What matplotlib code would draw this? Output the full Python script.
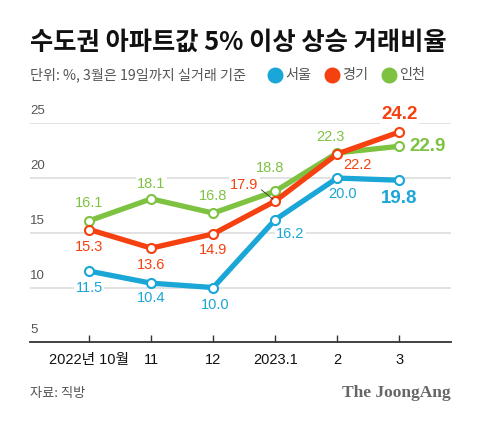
import matplotlib
matplotlib.use("Agg")
import matplotlib.pyplot as plt
from matplotlib.lines import Line2D

plt.rcParams["font.family"] = ["Liberation Sans", "Noto Sans CJK KR", "DejaVu Sans"]

months = ["2022년 10월", "11", "12", "2023.1", "2", "3"]
seoul = [11.5, 10.4, 10.0, 16.2, 20.0, 19.8]
gyeonggi = [15.3, 13.6, 14.9, 17.9, 22.2, 24.2]
incheon = [16.1, 18.1, 16.8, 18.8, 22.3, 22.9]
yticks = [5, 10, 15, 20, 25]

blue = "#1aa6d6"
red = "#f5400f"
green = "#7ec242"

W, H = 480, 422
fig = plt.figure(figsize=(4.8, 4.22), dpi=100)
ax = fig.add_axes([30 / W, 1 - 342.3 / H, (450.7 - 30) / W, (342.3 - 123.3) / H])
ax.set_xlim(-0.955, 5.83)
ax.set_ylim(5, 25)

for v in yticks[1:]:
    ax.axhline(v, color="#dadada", lw=1.1, zorder=0)
for s in ["top", "right", "left"]:
    ax.spines[s].set_visible(False)
ax.spines["bottom"].set_color("#333333")
ax.spines["bottom"].set_linewidth(1.3)
ax.set_yticks([])
ax.set_xticks(range(len(months)))
ax.set_xticklabels(months, fontsize=10.5, color="#111111")
ax.tick_params(axis="x", direction="in", length=5, width=1, color="#333333", pad=8)

for v in yticks:
    ax.text(-0.955, v + 0.55, str(v), fontsize=9.5, color="#555555", ha="left", va="bottom")

x = list(range(len(months)))
for series, col in [(incheon, green), (seoul, blue), (gyeonggi, red)]:
    ax.plot(x, series, color=col, lw=3.8, zorder=3, solid_capstyle="round",
            marker="o", markersize=6.5, markerfacecolor="white",
            markeredgecolor=col, markeredgewidth=1.5, clip_on=False)

bb = dict(facecolor="white", edgecolor="none", pad=1.0)


def lab(i, vals, dx, dy, col, bold=False, ha="center"):
    ax.annotate(f"{vals[i]:.1f}", (i, vals[i]), xytext=(dx, dy), textcoords="offset pixels",
                ha=ha, va="center", color=col, fontsize=13.5 if bold else 10.5,
                fontweight="bold" if bold else "normal", bbox=bb, zorder=1.5)


# 인천
lab(0, incheon, 0, 18, green)
lab(1, incheon, 0, 15, green)
lab(2, incheon, 0, 17, green)
lab(3, incheon, -5, 23, green)
lab(4, incheon, -7, 16, green)
lab(5, incheon, 10, 0, green, bold=True, ha="left")
# 경기
lab(0, gyeonggi, 0, -17, red)
lab(1, gyeonggi, 0, -17, red)
lab(2, gyeonggi, 0, -16, red)
lab(3, gyeonggi, -31, 16, red)
lab(4, gyeonggi, 20, -11, red)
lab(5, gyeonggi, 0, 18, red, bold=True)
# 서울
lab(0, seoul, 0, -17, blue)
lab(1, seoul, 0, -15, blue)
lab(2, seoul, 2, -17, blue)
lab(3, seoul, 15, -14, blue)
lab(4, seoul, 5, -16, blue)
lab(5, seoul, 0, -18, blue, bold=True)

# leader line for 17.9
ax.annotate("", (3, gyeonggi[3]), xytext=(-16, 13), textcoords="offset pixels",
            arrowprops=dict(arrowstyle="-", color="#333333", lw=0.6), zorder=4)

kr = ["Noto Sans CJK KR", "DejaVu Sans"]
fig.text(30 / W, 1 - 42 / H, "수도권 아파트값 5% 이상 상승 거래비율", fontsize=18.2,
         fontweight="bold", family=kr, ha="left", va="center", color="#111111")
fig.text(30 / W, 1 - 75 / H, "단위: %, 3월은 19일까지 실거래 기준", fontsize=10.2,
         family=kr, ha="left", va="center", color="#555555")

for cx, name, col in [(275, "서울", blue), (332, "경기", red), (389, "인천", green)]:
    fig.add_artist(Line2D([cx / W], [1 - 75 / H], marker="o", markersize=10.5,
                          color=col, transform=fig.transFigure))
    fig.text((cx + 10) / W, 1 - 75 / H, name, fontsize=10.2, family=kr,
             ha="left", va="center", color="#555555")

fig.text(30 / W, 1 - 393 / H, "자료: 직방", fontsize=9.5, family=kr,
         ha="left", va="center", color="#555555")
fig.text(451 / W, 1 - 393 / H, "The JoongAng", fontsize=12.5, family="Liberation Serif",
         fontweight="bold", ha="right", va="center", color="#666666")

fig.savefig("out.png", dpi=100, facecolor="white")
